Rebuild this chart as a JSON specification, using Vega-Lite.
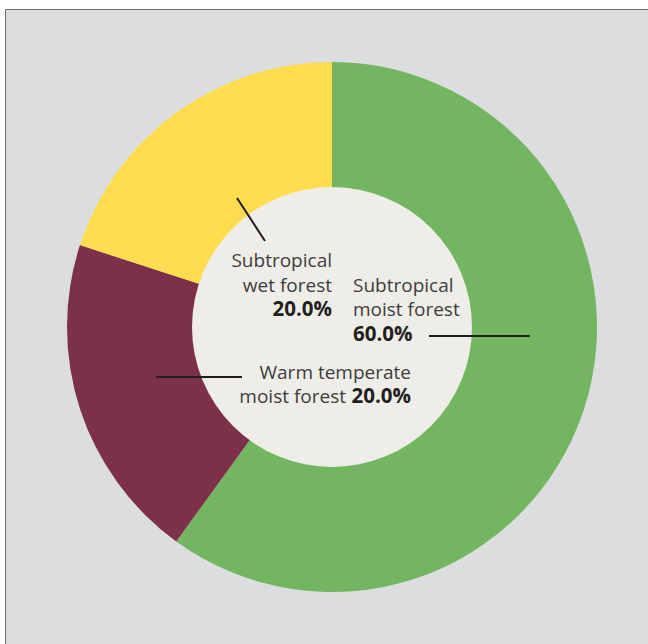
{
  "$schema": "https://vega.github.io/schema/vega-lite/v6.json",
  "width": 648,
  "height": 644,
  "autosize": {"type": "fit", "contains": "padding"},
  "padding": {"left": 5, "top": 9, "right": 0, "bottom": 0},
  "background": "#ffffff",
  "config": {
    "view": {"fill": "#dcdddf", "stroke": "#6a6a6a", "strokeWidth": 1},
    "font": "Open Sans"
  },
  "datasets": {
    "shares": [
      {"forest": "Subtropical moist forest", "share": 60, "order": 1},
      {"forest": "Warm temperate moist forest", "share": 20, "order": 2},
      {"forest": "Subtropical wet forest", "share": 20, "order": 3}
    ],
    "leaders": [
      {"forest": "Subtropical wet forest", "x": -95, "y": 129, "x2": -67, "y2": 86},
      {"forest": "Subtropical moist forest", "x": 97, "y": -9, "x2": 198, "y2": -9},
      {"forest": "Warm temperate moist forest", "x": -176, "y": -50, "x2": -90, "y2": -50}
    ],
    "labels": [
      {"text": "Subtropical", "x": 0, "y": 60, "role": "name", "anchor": "right"},
      {"text": "wet forest", "x": 0, "y": 35, "role": "name", "anchor": "right"},
      {"text": "20.0%", "x": 0, "y": 11, "role": "share", "anchor": "right"},
      {"text": "Subtropical", "x": 21, "y": 35, "role": "name", "anchor": "left"},
      {"text": "moist forest", "x": 21, "y": 11, "role": "name", "anchor": "left"},
      {"text": "60.0%", "x": 21, "y": -14, "role": "share", "anchor": "left"},
      {"text": "Warm temperate", "x": 79, "y": -52, "role": "name", "anchor": "right"},
      {"text": "moist forest", "x": 14, "y": -76, "role": "name", "anchor": "right"},
      {"text": "20.0%", "x": 79, "y": -76, "role": "share", "anchor": "right"}
    ]
  },
  "layer": [
    {
      "data": {"name": "shares"},
      "mark": {"type": "arc", "outerRadius": 265, "innerRadius": 0},
      "encoding": {
        "x": {"datum": 0, "type": "quantitative", "scale": {"domain": [-327, 316], "nice": false, "zero": false}, "axis": null},
        "y": {"datum": 0, "type": "quantitative", "scale": {"domain": [-317, 318], "nice": false, "zero": false}, "axis": null},
        "theta": {"field": "share", "type": "quantitative", "stack": true},
        "order": {"field": "order", "type": "quantitative"},
        "color": {
          "field": "forest",
          "type": "nominal",
          "scale": {
            "domain": ["Subtropical moist forest", "Warm temperate moist forest", "Subtropical wet forest"],
            "range": ["#73b561", "#7c304a", "#ffdd4e"]
          },
          "legend": null
        }
      }
    },
    {
      "data": {"values": [{"center": "hole"}]},
      "mark": {"type": "point", "shape": "circle", "filled": true, "opacity": 1, "color": "#efede8", "size": 78400, "strokeWidth": 0},
      "encoding": {
        "x": {"datum": 0, "type": "quantitative"},
        "y": {"datum": 0, "type": "quantitative"}
      }
    },
    {
      "data": {"name": "leaders"},
      "mark": {"type": "rule", "color": "#231f20", "strokeWidth": 2},
      "encoding": {
        "x": {"field": "x", "type": "quantitative"},
        "y": {"field": "y", "type": "quantitative"},
        "x2": {"field": "x2"},
        "y2": {"field": "y2"}
      }
    },
    {
      "data": {"name": "labels"},
      "transform": [{"filter": "datum.anchor === 'right' && datum.role === 'name'"}],
      "mark": {"type": "text", "align": "right", "baseline": "alphabetic", "fontSize": 19, "color": "#3d3d3d"},
      "encoding": {
        "x": {"field": "x", "type": "quantitative"},
        "y": {"field": "y", "type": "quantitative"},
        "text": {"field": "text"}
      }
    },
    {
      "data": {"name": "labels"},
      "transform": [{"filter": "datum.anchor === 'right' && datum.role === 'share'"}],
      "mark": {"type": "text", "align": "right", "baseline": "alphabetic", "fontSize": 20.5, "fontWeight": "bold", "color": "#231f20"},
      "encoding": {
        "x": {"field": "x", "type": "quantitative"},
        "y": {"field": "y", "type": "quantitative"},
        "text": {"field": "text"}
      }
    },
    {
      "data": {"name": "labels"},
      "transform": [{"filter": "datum.anchor === 'left' && datum.role === 'name'"}],
      "mark": {"type": "text", "align": "left", "baseline": "alphabetic", "fontSize": 19, "color": "#3d3d3d"},
      "encoding": {
        "x": {"field": "x", "type": "quantitative"},
        "y": {"field": "y", "type": "quantitative"},
        "text": {"field": "text"}
      }
    },
    {
      "data": {"name": "labels"},
      "transform": [{"filter": "datum.anchor === 'left' && datum.role === 'share'"}],
      "mark": {"type": "text", "align": "left", "baseline": "alphabetic", "fontSize": 20.5, "fontWeight": "bold", "color": "#231f20"},
      "encoding": {
        "x": {"field": "x", "type": "quantitative"},
        "y": {"field": "y", "type": "quantitative"},
        "text": {"field": "text"}
      }
    }
  ]
}
